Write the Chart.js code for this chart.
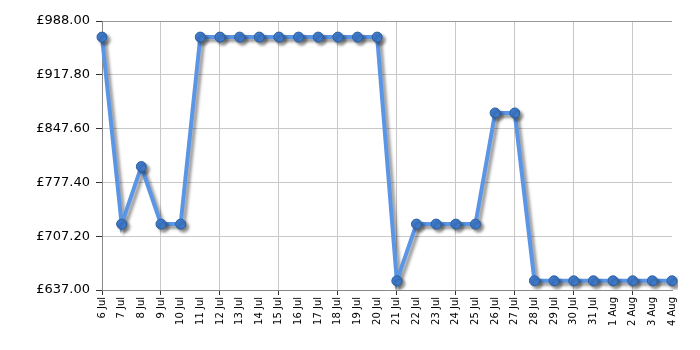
<!DOCTYPE html>
<html>
<head>
<meta charset="utf-8">
<script src="https://cdn.jsdelivr.net/npm/chart.js@4"></script>
<style>
  html, body { margin: 0; padding: 0; background: #fff; }
  #wrap { width: 700px; height: 350px; }
</style>
</head>
<body>
<div id="wrap"><canvas id="priceChart"></canvas></div>
<script>
// data
const dates = ['6 Jul', '7 Jul', '8 Jul', '9 Jul', '10 Jul', '11 Jul', '12 Jul', '13 Jul', '14 Jul', '15 Jul',
  '16 Jul', '17 Jul', '18 Jul', '19 Jul', '20 Jul', '21 Jul', '22 Jul', '23 Jul', '24 Jul', '25 Jul',
  '26 Jul', '27 Jul', '28 Jul', '29 Jul', '30 Jul', '31 Jul', '1 Aug', '2 Aug', '3 Aug', '4 Aug'];
const prices = [967, 723, 798, 723, 723, 967, 967, 967, 967, 967,
  967, 967, 967, 967, 967, 649, 723, 723, 723, 723,
  868, 868, 649, 649, 649, 649, 649, 649, 649, 649];
const yTicks = [637, 707.2, 777.4, 847.6, 917.8, 988];

// gray drop shadow under the line and points
const shadowPlugin = {
  id: 'lineShadow',
  beforeDatasetsDraw(chart) {
    const ctx = chart.ctx;
    ctx.save();
    ctx.shadowColor = 'rgba(0,0,0,0.4)';
    ctx.shadowOffsetX = 3;
    ctx.shadowOffsetY = 3;
    ctx.shadowBlur = 3;
  },
  afterDatasetsDraw(chart) {
    chart.ctx.restore();
  }
};

new Chart(document.getElementById('priceChart'), {
  type: 'line',
  data: {
    labels: dates,
    datasets: [{
      data: prices,
      borderColor: '#5b95e6',
      borderWidth: 4,
      pointRadius: 5,
      pointHoverRadius: 5,
      pointBackgroundColor: '#3f7bcc',
      pointBorderColor: '#2d5f9f',
      pointBorderWidth: 1,
      tension: 0
    }]
  },
  options: {
    responsive: true,
    maintainAspectRatio: false,
    animation: false,
    layout: { padding: { left: 0, right: 28, top: 21, bottom: 0 } },
    plugins: { legend: { display: false }, tooltip: { enabled: false } },
    scales: {
      x: {
        offset: false,
        border: { color: '#888', width: 1 },
        grid: {
          color: c => (c.index % 3 === 0 ? '#c8c8c8' : 'rgba(0,0,0,0)'),
          tickColor: c => (c.index % 3 === 0 ? '#333' : 'rgba(0,0,0,0)'),
          tickLength: 5
        },
        ticks: {
          autoSkip: false,
          maxRotation: 90,
          minRotation: 90,
          color: '#000',
          padding: 2,
          font: { family: 'Verdana, "DejaVu Sans", sans-serif', size: 10 }
        },
        afterFit: s => { s.height = 60; }
      },
      y: {
        min: 637,
        max: 988,
        border: { color: '#888', width: 1 },
        grid: {
          color: c => (c.index === yTicks.length - 1 ? '#999' : '#c8c8c8'),
          tickColor: '#333',
          tickLength: 6
        },
        afterBuildTicks: s => { s.ticks = yTicks.map(v => ({ value: v })); },
        ticks: {
          color: '#000',
          padding: 6,
          font: { family: 'Verdana, "DejaVu Sans", sans-serif', size: 13 },
          callback: v => '£' + Number(v).toFixed(2)
        },
        afterFit: s => { s.width = 102; }
      }
    }
  },
  plugins: [shadowPlugin]
});
</script>
</body>
</html>
